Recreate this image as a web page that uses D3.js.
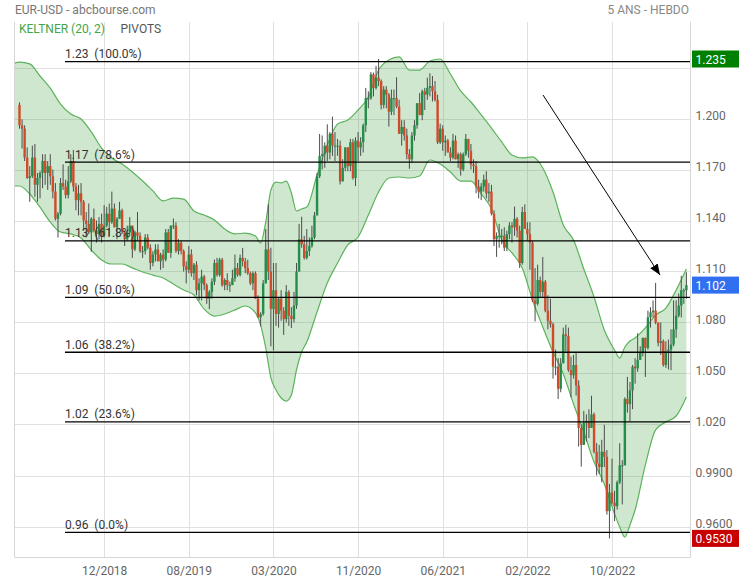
<!DOCTYPE html>
<html><head><meta charset="utf-8">
<script src="https://cdn.jsdelivr.net/npm/d3@7"></script>
<style>
html,body{margin:0;padding:0;background:#fff;}
svg{display:block;font-family:Roboto,"Noto Sans",sans-serif;}
</style></head><body>
<svg id="chart" width="739" height="580"></svg>
<script>
// ---------- DATA (weekly EUR-USD, 261 bars) ----------
const opens = [
1.2080,1.1960,1.1940,1.1770,1.1650,1.1660,1.1770,1.1610,1.1650,1.1680,
1.1750,1.1680,1.1720,1.1660,1.1570,1.1410,1.1440,1.1620,1.1600,1.1550,
1.1630,1.1750,1.1600,1.1520,1.1560,1.1510,1.1400,1.1380,1.1330,1.1410,
1.1340,1.1320,1.1380,1.1310,1.1370,1.1440,1.1390,1.1470,1.1360,1.1410,
1.1460,1.1330,1.1290,1.1330,1.1370,1.1230,1.1330,1.1310,1.1220,1.1220,
1.1300,1.1240,1.1150,1.1200,1.1230,1.1160,1.1200,1.1170,1.1330,1.1210,
1.1370,1.1370,1.1220,1.1270,1.1220,1.1130,1.1110,1.1200,1.1090,1.1140,
1.0990,1.1030,1.1070,1.1020,1.0940,1.0980,1.1040,1.1150,1.1080,1.1170,
1.1020,1.1050,1.1020,1.1020,1.1060,1.1120,1.1080,1.1180,1.1160,1.1120,
1.1090,1.1030,1.1090,1.0940,1.0830,1.0850,1.1030,1.1230,1.1100,1.0880,
1.0990,1.0850,1.0940,1.0870,1.0820,1.0980,1.0840,1.0820,1.0900,1.1100,
1.1290,1.1260,1.1180,1.1220,1.1250,1.1300,1.1430,1.1660,1.1780,1.1790,
1.1840,1.1800,1.1910,1.1840,1.1840,1.1840,1.1630,1.1710,1.1830,1.1720,
1.1860,1.1650,1.1870,1.1830,1.1860,1.1960,1.2120,1.2120,1.2260,1.2180,
1.2240,1.2220,1.2080,1.2170,1.2140,1.2040,1.2120,1.2120,1.2070,1.1910,
1.1950,1.1900,1.1790,1.1760,1.1900,1.1960,1.2090,1.2020,1.2160,1.2140,
1.2180,1.2190,1.2160,1.2110,1.1860,1.1940,1.1860,1.1870,1.1800,1.1770,
1.1870,1.1760,1.1790,1.1700,1.1790,1.1880,1.1810,1.1730,1.1720,1.1600,
1.1570,1.1600,1.1640,1.1560,1.1570,1.1440,1.1290,1.1310,1.1310,1.1310,
1.1240,1.1320,1.1370,1.1360,1.1410,1.1340,1.1150,1.1450,1.1350,1.1320,
1.1270,1.0930,1.0910,1.1050,1.0980,1.1040,1.0870,1.0810,1.0790,1.0540,
1.0540,1.0410,1.0560,1.0730,1.0720,1.0520,1.0490,1.0550,1.0430,1.0180,
1.0080,1.0210,1.0220,1.0180,1.0260,1.0040,0.9970,0.9950,1.0040,1.0010,
0.9690,0.9800,0.9740,0.9720,0.9860,0.9960,0.9960,1.0350,1.0320,1.0400,
1.0540,1.0530,1.0580,1.0620,1.0710,1.0650,1.0830,1.0860,1.0870,1.0800,
1.0680,1.0690,1.0550,1.0630,1.0640,1.0670,1.0760,1.0840,1.0900,1.0990,
1.0990];
const closes = [
1.1960,1.1940,1.1770,1.1650,1.1660,1.1770,1.1610,1.1650,1.1680,1.1750,
1.1680,1.1720,1.1660,1.1570,1.1410,1.1440,1.1620,1.1600,1.1550,1.1630,
1.1750,1.1600,1.1520,1.1560,1.1510,1.1400,1.1380,1.1330,1.1410,1.1340,
1.1320,1.1380,1.1310,1.1370,1.1440,1.1390,1.1470,1.1360,1.1410,1.1460,
1.1330,1.1290,1.1330,1.1370,1.1230,1.1330,1.1310,1.1220,1.1220,1.1300,
1.1240,1.1150,1.1200,1.1230,1.1160,1.1200,1.1170,1.1330,1.1210,1.1370,
1.1370,1.1220,1.1270,1.1220,1.1130,1.1110,1.1200,1.1090,1.1140,1.0990,
1.1030,1.1070,1.1020,1.0940,1.0980,1.1040,1.1150,1.1080,1.1170,1.1020,
1.1050,1.1020,1.1020,1.1060,1.1120,1.1080,1.1180,1.1160,1.1120,1.1090,
1.1030,1.1090,1.0940,1.0830,1.0850,1.1030,1.1230,1.1100,1.0880,1.0990,
1.0850,1.0940,1.0870,1.0820,1.0980,1.0840,1.0820,1.0900,1.1100,1.1290,
1.1260,1.1180,1.1220,1.1250,1.1300,1.1430,1.1660,1.1780,1.1790,1.1840,
1.1800,1.1910,1.1840,1.1840,1.1840,1.1630,1.1710,1.1830,1.1720,1.1860,
1.1650,1.1870,1.1830,1.1860,1.1960,1.2120,1.2120,1.2260,1.2180,1.2240,
1.2220,1.2080,1.2170,1.2140,1.2040,1.2120,1.2120,1.2070,1.1910,1.1950,
1.1900,1.1790,1.1760,1.1900,1.1960,1.2090,1.2020,1.2160,1.2140,1.2180,
1.2190,1.2160,1.2110,1.1860,1.1940,1.1860,1.1870,1.1800,1.1770,1.1870,
1.1760,1.1790,1.1700,1.1790,1.1880,1.1810,1.1730,1.1720,1.1600,1.1570,
1.1600,1.1640,1.1560,1.1570,1.1440,1.1290,1.1310,1.1310,1.1310,1.1240,
1.1320,1.1370,1.1360,1.1410,1.1340,1.1150,1.1450,1.1350,1.1320,1.1270,
1.0930,1.0910,1.1050,1.0980,1.1040,1.0870,1.0810,1.0790,1.0540,1.0540,
1.0410,1.0560,1.0730,1.0720,1.0520,1.0490,1.0550,1.0430,1.0180,1.0080,
1.0210,1.0220,1.0180,1.0260,1.0040,0.9970,0.9950,1.0040,1.0010,0.9690,
0.9800,0.9740,0.9720,0.9860,0.9960,0.9960,1.0350,1.0320,1.0400,1.0540,
1.0530,1.0580,1.0620,1.0710,1.0650,1.0830,1.0860,1.0870,1.0800,1.0680,
1.0690,1.0550,1.0630,1.0640,1.0670,1.0760,1.0840,1.0900,1.0990,1.0990,
1.1020];
const highs = [
1.2095,1.1995,1.1960,1.1830,1.1720,1.1840,1.1850,1.1680,1.1690,1.1790,
1.1790,1.1750,1.1790,1.1700,1.1620,1.1450,1.1650,1.1730,1.1640,1.1720,
1.1790,1.1815,1.1620,1.1610,1.1620,1.1520,1.1450,1.1500,1.1420,1.1470,
1.1400,1.1420,1.1440,1.1490,1.1480,1.1500,1.1570,1.1500,1.1420,1.1510,
1.1470,1.1340,1.1370,1.1420,1.1370,1.1340,1.1450,1.1330,1.1250,1.1320,
1.1320,1.1260,1.1220,1.1260,1.1260,1.1210,1.1230,1.1350,1.1350,1.1370,
1.1412,1.1390,1.1290,1.1280,1.1230,1.1160,1.1250,1.1230,1.1150,1.1160,
1.1060,1.1110,1.1080,1.1030,1.0990,1.1060,1.1170,1.1180,1.1180,1.1180,
1.1060,1.1090,1.1040,1.1110,1.1200,1.1150,1.1200,1.1239,1.1180,1.1170,
1.1100,1.1100,1.1100,1.0960,1.0860,1.1050,1.1350,1.1495,1.1240,1.1150,
1.1150,1.0950,1.0990,1.0890,1.1020,1.0990,1.0890,1.0980,1.1150,1.1380,
1.1422,1.1310,1.1350,1.1300,1.1370,1.1450,1.1680,1.1909,1.1900,1.1860,
1.1966,1.1920,1.2011,1.1920,1.1880,1.1870,1.1760,1.1830,1.1830,1.1880,
1.1880,1.1890,1.1920,1.1890,1.1970,1.2180,1.2160,1.2273,1.2270,1.2310,
1.2350,1.2230,1.2190,1.2190,1.2150,1.2170,1.2170,1.2243,1.2110,1.1990,
1.1990,1.1940,1.1820,1.1920,1.1990,1.2090,1.2150,1.2170,1.2180,1.2240,
1.2266,1.2250,1.2220,1.2140,1.1970,1.1960,1.1900,1.1880,1.1830,1.1910,
1.1900,1.1800,1.1800,1.1800,1.1909,1.1880,1.1850,1.1760,1.1750,1.1640,
1.1620,1.1670,1.1690,1.1620,1.1610,1.1460,1.1330,1.1380,1.1350,1.1360,
1.1340,1.1390,1.1390,1.1482,1.1420,1.1370,1.1480,1.1495,1.1390,1.1390,
1.1280,1.1120,1.1140,1.1070,1.1185,1.1050,1.0960,1.0940,1.0800,1.0640,
1.0590,1.0590,1.0770,1.0787,1.0770,1.0600,1.0610,1.0620,1.0460,1.0200,
1.0280,1.0260,1.0290,1.0369,1.0270,1.0090,1.0080,1.0110,1.0198,1.0050,
0.9850,0.9999,0.9810,0.9870,1.0090,0.9990,1.0360,1.0480,1.0450,1.0550,
1.0590,1.0737,1.0660,1.0710,1.0710,1.0870,1.0890,1.0930,1.1033,1.0800,
1.0800,1.0700,1.0690,1.0700,1.0760,1.0930,1.0930,1.0970,1.1075,1.1000,
1.1095];
const lows = [
1.1940,1.1823,1.1750,1.1645,1.1510,1.1650,1.1540,1.1510,1.1530,1.1590,
1.1610,1.1580,1.1610,1.1530,1.1400,1.1300,1.1430,1.1580,1.1530,1.1530,
1.1620,1.1570,1.1460,1.1430,1.1430,1.1340,1.1300,1.1320,1.1216,1.1330,
1.1270,1.1290,1.1270,1.1300,1.1360,1.1310,1.1380,1.1360,1.1290,1.1410,
1.1320,1.1250,1.1280,1.1320,1.1180,1.1220,1.1280,1.1210,1.1180,1.1200,
1.1230,1.1110,1.1130,1.1160,1.1160,1.1110,1.1120,1.1160,1.1210,1.1180,
1.1350,1.1210,1.1200,1.1200,1.1100,1.1030,1.1090,1.1070,1.1050,1.0960,
1.0930,1.0930,1.0990,1.0910,1.0879,1.0940,1.1020,1.1070,1.1070,1.1010,
1.0990,1.0990,1.0980,1.1020,1.1040,1.1070,1.1070,1.1130,1.1090,1.1080,
1.1020,1.0990,1.0940,1.0830,1.0778,1.0840,1.1030,1.1050,1.0660,1.0636,
1.0780,1.0770,1.0810,1.0727,1.0800,1.0780,1.0767,1.0800,1.0880,1.1100,
1.1240,1.1170,1.1170,1.1190,1.1240,1.1290,1.1430,1.1650,1.1700,1.1710,
1.1750,1.1760,1.1780,1.1750,1.1780,1.1612,1.1630,1.1690,1.1690,1.1690,
1.1640,1.1603,1.1750,1.1780,1.1800,1.1920,1.2060,1.2110,1.2130,1.2170,
1.2190,1.2053,1.2060,1.2060,1.1952,1.2020,1.2020,1.2060,1.1910,1.1840,
1.1870,1.1760,1.1704,1.1740,1.1870,1.1940,1.2020,1.1990,1.2050,1.2110,
1.2130,1.2100,1.2100,1.1850,1.1850,1.1810,1.1780,1.1800,1.1750,1.1760,
1.1760,1.1710,1.1664,1.1690,1.1780,1.1770,1.1700,1.1680,1.1560,1.1530,
1.1520,1.1570,1.1530,1.1510,1.1430,1.1250,1.1186,1.1240,1.1260,1.1220,
1.1220,1.1290,1.1270,1.1310,1.1300,1.1121,1.1140,1.1350,1.1280,1.1110,
1.0920,1.0806,1.0900,1.0950,1.0950,1.0860,1.0760,1.0770,1.0470,1.0490,
1.0350,1.0390,1.0560,1.0630,1.0510,1.0360,1.0470,1.0370,1.0070,0.9952,
1.0080,1.0100,1.0120,1.0180,1.0030,0.9900,0.9910,0.9860,0.9950,0.9670,
0.9530,0.9730,0.9632,0.9700,0.9850,0.9730,0.9960,1.0270,1.0220,1.0290,
1.0440,1.0510,1.0580,1.0600,1.0480,1.0640,1.0770,1.0830,1.0790,1.0660,
1.0610,1.0540,1.0533,1.0524,1.0520,1.0660,1.0710,1.0830,1.0830,1.0910,
1.0940];

// Keltner (20, 2) channel at these bar indices
const bandBars = [-2,0,4,8,12,16,20,24,28,32,36,40,44,48,52,56,60,64,68,72,76,80,84,88,
  92,94,96,98,100,102,104,106,108,110,112,116,120,124,128,132,136,140,144,148,152,156,
  160,164,168,172,176,180,184,188,192,196,200,204,208,212,216,220,224,228,232,234,236,
  238,240,244,248,252,256,260];
const bandUpper = [1.2326,1.2332,1.2321,1.2250,1.2179,1.2085,1.2026,1.1997,1.1921,1.1826,
  1.1768,1.1732,1.1685,1.1632,1.1574,1.1515,1.1532,1.1526,1.1456,1.1432,1.1403,1.1350,
  1.1321,1.1326,1.1309,1.1268,1.1391,1.1579,1.1626,1.1621,1.1632,1.1562,1.1456,1.1468,
  1.1479,1.1668,1.1844,1.1968,1.1991,1.2050,1.2126,1.2285,1.2344,1.2362,1.2285,1.2285,
  1.2338,1.2350,1.2262,1.2162,1.2097,1.2021,1.1944,1.1862,1.1785,1.1768,1.1774,1.1709,
  1.1568,1.1374,1.1285,1.1115,1.0950,1.0756,1.0638,1.0591,1.0656,1.0691,1.0709,1.0768,
  1.0844,1.0885,1.0991,1.1115];
const bandLower = [1.1603,1.1603,1.1556,1.1479,1.1391,1.1332,1.1321,1.1297,1.1226,1.1168,
  1.1144,1.1144,1.1121,1.1097,1.1079,1.1062,1.1026,1.0991,1.0962,1.0879,1.0838,1.0850,
  1.0874,1.0897,1.0856,1.0785,1.0650,1.0474,1.0403,1.0356,1.0338,1.0374,1.0521,1.0626,
  1.0685,1.0862,1.1032,1.1150,1.1256,1.1303,1.1432,1.1568,1.1650,1.1656,1.1650,1.1662,
  1.1756,1.1732,1.1685,1.1632,1.1632,1.1556,1.1468,1.1285,1.1209,1.1121,1.0932,1.0774,
  1.0626,1.0497,1.0321,1.0156,0.9979,0.9850,0.9674,0.9597,0.9538,0.9609,0.9697,0.9962,
  1.0168,1.0215,1.0250,1.0362];

// Fibonacci pivots
const fibLevels = [1.2335, 1.1743, 1.1280, 1.0948, 1.0625, 1.0215, 0.9566];
const fibValueLabels = ["1.23", "1.17", "1.13", "1.09", "1.06", "1.02", "0.96"];
const fibPercents = [100.0, 78.6, 61.8, 50.0, 38.2, 23.6, 0.0];

// axes
const yTicks = [0.96, 0.99, 1.02, 1.05, 1.08, 1.11, 1.14, 1.17, 1.20, 1.23];
const xTickBars = [33, 66, 99, 132, 165, 198, 231];
const xTickLabels = ["12/2018", "08/2019", "03/2020", "11/2020", "06/2021", "02/2022", "10/2022"];

// annotation arrow (bar index, price)
const arrowFrom = {bar: 204.1, price: 1.2138};
const arrowTo = {bar: 249.7, price: 1.1079};

// ---------- DRAW ----------
const svg = d3.select("#chart");
const P = {left: 14.5, right: 690.5, top: 22, bottom: 557.5};
const x = d3.scaleLinear().domain([0, 260]).range([19.5, 686.4]);
const y = d3.scaleLinear().domain([0.96, 1.23]).range([526.5, 67.5]);

svg.append("defs").append("clipPath").attr("id", "clip")
  .append("rect").attr("x", P.left).attr("y", P.top)
  .attr("width", P.right - P.left).attr("height", P.bottom - P.top);
svg.select("defs").append("marker").attr("id", "arrowhead")
  .attr("viewBox", "0 0 10 8").attr("refX", 10).attr("refY", 4)
  .attr("markerWidth", 11).attr("markerHeight", 9).attr("markerUnits", "userSpaceOnUse")
  .attr("orient", "auto")
  .append("path").attr("d", "M0,0L10,4L0,8Z").attr("fill", "#000");

// grid
const grid = svg.append("g").attr("stroke", "#e0e0e0").attr("stroke-width", 1);
grid.selectAll("line.h").data(yTicks).join("line").attr("class", "h")
  .attr("x1", P.left).attr("x2", P.right)
  .attr("y1", d => Math.round(y(d)) + 0.5).attr("y2", d => Math.round(y(d)) + 0.5);
grid.selectAll("line.v").data(xTickBars).join("line").attr("class", "v")
  .attr("y1", P.top).attr("y2", P.bottom)
  .attr("x1", d => Math.round(x(d)) + 0.5).attr("x2", d => Math.round(x(d)) + 0.5);

const plot = svg.append("g").attr("clip-path", "url(#clip)");

// Keltner band
const band = bandBars.map((b, i) => ({b, u: bandUpper[i], l: bandLower[i]}));
plot.append("path").datum(band)
  .attr("d", d3.area().x(d => x(d.b)).y0(d => y(d.l)).y1(d => y(d.u)).curve(d3.curveMonotoneX))
  .attr("fill", "rgba(60,160,60,0.25)");
const lineU = d3.line().x(d => x(d.b)).y(d => y(d.u)).curve(d3.curveMonotoneX);
const lineL = d3.line().x(d => x(d.b)).y(d => y(d.l)).curve(d3.curveMonotoneX);
plot.append("path").datum(band).attr("d", lineU).attr("fill", "none")
  .attr("stroke", "#5cb35c").attr("stroke-width", 1.2);
plot.append("path").datum(band).attr("d", lineL).attr("fill", "none")
  .attr("stroke", "#5cb35c").attr("stroke-width", 1.2);

// candles
const bars = closes.map((c, i) => ({i, o: opens[i], h: highs[i], l: lows[i], c}));
const cg = plot.append("g");
cg.selectAll("line").data(bars).join("line")
  .attr("x1", d => x(d.i)).attr("x2", d => x(d.i))
  .attr("y1", d => y(d.h)).attr("y2", d => y(d.l))
  .attr("stroke", "#4d4d4d").attr("stroke-width", 1);
const bw = 2.4;
cg.selectAll("rect").data(bars).join("rect")
  .attr("x", d => x(d.i) - bw / 2).attr("width", bw)
  .attr("y", d => y(Math.max(d.o, d.c)))
  .attr("height", d => Math.max(1, Math.abs(y(d.o) - y(d.c))))
  .attr("fill", d => d.c >= d.o ? "#268c4a" : "#d04a2c");

// fib lines
const fg = svg.append("g");
fg.selectAll("line").data(fibLevels).join("line")
  .attr("x1", 65).attr("x2", P.right)
  .attr("y1", d => y(d)).attr("y2", d => y(d))
  .attr("stroke", "#000").attr("stroke-width", 1.3);
fg.selectAll("text").data(fibLevels).join("text")
  .attr("x", 65).attr("y", d => y(d) - 3.5)
  .attr("xml:space", "preserve").style("white-space", "pre")
  .attr("font-size", 12).attr("fill", "#333")
  .text((d, i) => fibValueLabels[i] + "  (" + fibPercents[i].toFixed(1) + "%)");

// arrow
svg.append("line")
  .attr("x1", x(arrowFrom.bar)).attr("y1", y(arrowFrom.price))
  .attr("x2", x(arrowTo.bar)).attr("y2", y(arrowTo.price))
  .attr("stroke", "#000").attr("stroke-width", 1)
  .attr("marker-end", "url(#arrowhead)");

// frame
const fr = svg.append("g").attr("stroke", "#d6d6d6").attr("stroke-width", 1);
fr.append("line").attr("x1", P.left).attr("x2", P.left).attr("y1", P.top).attr("y2", P.bottom);
fr.append("line").attr("x1", P.right).attr("x2", P.right).attr("y1", P.top).attr("y2", P.bottom);
fr.append("line").attr("x1", P.left).attr("x2", P.right).attr("y1", P.bottom).attr("y2", P.bottom);

// price boxes (max high, last close, min low)
const boxes = [
  {v: d3.max(highs), color: "#008000"},
  {v: closes[closes.length - 1], color: "#2f6ff0"},
  {v: d3.min(lows), color: "#c80000"}
];

// y axis (right) - labels hidden where a price box covers them
const fmt = d3.format(".4r");
const covered = t => boxes.some(b => Math.abs(y(b.v) - (y(t) - 3.5)) < 12);
const yAxis = svg.append("g").attr("transform", `translate(${P.right},0)`)
  .call(d3.axisRight(y).tickValues(yTicks.filter(t => !covered(t))).tickFormat(fmt).tickSize(0).tickPadding(5));
yAxis.select(".domain").remove();
yAxis.selectAll("text").attr("font-size", 12).attr("fill", "#666")
  .attr("font-family", "Roboto").attr("dy", "0.06em");

// x axis
const xAxis = svg.append("g").attr("transform", `translate(0,${P.bottom})`)
  .call(d3.axisBottom(x).tickValues(xTickBars).tickFormat((d, i) => xTickLabels[i]).tickSize(0).tickPadding(9));
xAxis.select(".domain").remove();
xAxis.selectAll("text").attr("font-size", 12).attr("fill", "#666").attr("font-family", "Roboto");

const bg = svg.append("g");
bg.selectAll("rect").data(boxes).join("rect")
  .attr("x", 692).attr("width", 47).attr("y", d => y(d.v) - 8.5).attr("height", 17)
  .attr("fill", d => d.color);
bg.selectAll("text").data(boxes).join("text")
  .attr("x", 695.5).attr("y", d => y(d.v) + 4.5)
  .attr("font-size", 12).attr("fill", "#fff")
  .text(d => fmt(d.v));

// header texts
svg.append("text").attr("x", 15).attr("y", 13.5).attr("font-size", 12).attr("fill", "#777")
  .text("EUR-USD - abcbourse.com");
svg.append("text").attr("x", 689).attr("y", 13.5).attr("font-size", 12).attr("fill", "#888")
  .attr("text-anchor", "end").text("5 ANS - HEBDO");
svg.append("text").attr("x", 19).attr("y", 33).attr("font-size", 12).attr("fill", "#45a649")
  .text("KELTNER (20, 2)");
svg.append("text").attr("x", 120.5).attr("y", 33).attr("font-size", 12).attr("fill", "#555")
  .text("PIVOTS");
</script>
</body></html>
